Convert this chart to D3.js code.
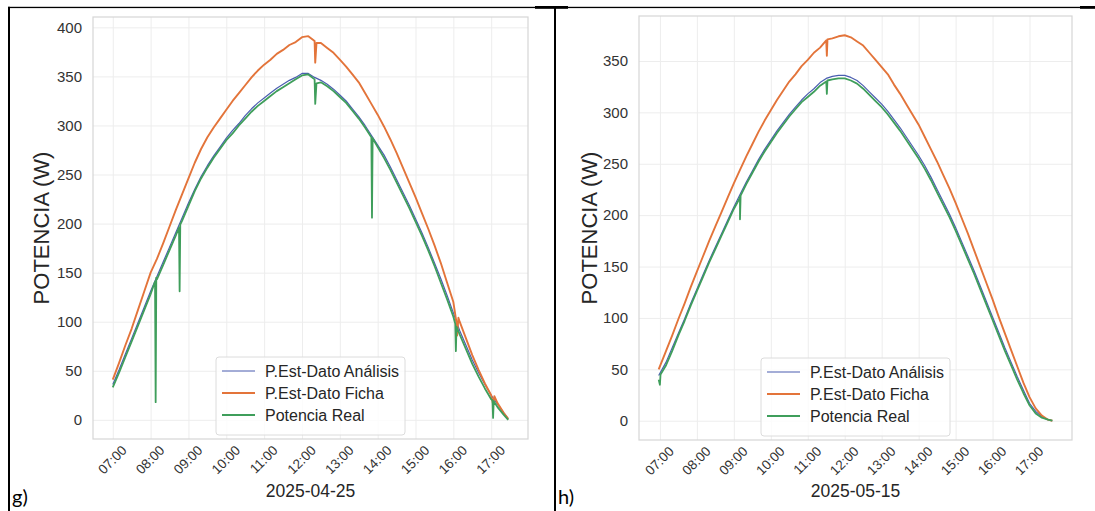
<!DOCTYPE html>
<html><head><meta charset="utf-8">
<script src="https://cdn.jsdelivr.net/npm/d3@7"></script>
<style>
body{margin:0;background:#fff}
svg{display:block}
text{font-family:"Liberation Sans",Arial,sans-serif}
</style>
</head><body><svg id="c" width="1095" height="511"></svg>
<script>
// ---------- data ----------
const seriesNames = ["P.Est-Dato Análisis","P.Est-Dato Ficha","Potencia Real"];
const hourTicks = ["07:00","08:00","09:00","10:00","11:00","12:00","13:00","14:00","15:00","16:00","17:00"];
const yTicksG = [0,50,100,150,200,250,300,350,400];
const yTicksH = [0,50,100,150,200,250,300,350];

const timesG = ["07:00","07:10","07:20","07:30","07:40","07:50","08:00","08:10","08:20","08:30","08:40","08:50",
"09:00","09:10","09:20","09:30","09:40","09:50","10:00","10:10","10:20","10:30","10:40","10:50",
"11:00","11:10","11:20","11:30","11:40","11:50","12:00","12:10","12:20","12:30","12:40","12:50",
"13:00","13:10","13:20","13:30","13:40","13:50","14:00","14:10","14:20","14:30","14:40","14:50",
"15:00","15:10","15:20","15:30","15:40","15:50","16:00","16:10","16:20","16:30","16:40","16:50",
"17:00","17:10","17:20","17:27"];
const analisisG = [36,51,67,83,99,115, 131,146,161,176,191,206, 221,235,248,259,269,278, 287,295,302,310,317,323,
328,333,338,342,346,349, 353,353,349,346,342,337, 331,325,317,309,300,290, 280,270,258,245,232,219,
205,191,176,160,144,127, 109,91,76,61,48,36, 25,16,7,1];
const fichaG = [41,58,76,93,112,131, 150,164,180,197,214,230, 246,262,276,288,298,307, 316,325,333,341,349,356,
362,367,373,377,382,385, 390,391,386,384,379,374, 367,360,352,344,333,322, 311,299,286,272,257,242,
227,211,195,178,160,140, 120,100,83,66,51,37, 25,17,7,1];
const realG = [33,48,64,80,96,112, 128,143,158,173,188,203, 218,233,246,257,267,276, 285,292,300,307,314,320,
325,330,335,339,343,347, 351,352,347,344,340,335, 329,323,315,307,298,288, 278,267,255,242,229,216,
202,188,173,157,140,123, 105,87,72,57,44,32, 21,13,5,0];
const fichaSpikesG = [["12:21",364],["12:23",384],["16:05",99],["16:06",86],["16:08",104],["17:03",16],["17:05",24]];
const realSpikesG = [["08:07",141],["08:08",18],["08:09",145],["08:45",196],["08:46",131],["08:47",199],
["12:21",322],["12:23",343],["13:51",206],["13:52",287],["16:03",98],["16:04",70],["16:05",95],
["17:02",20],["17:03",2],["17:04",19]];

const timesH = ["06:58","07:10","07:20","07:30","07:40","07:50","08:00","08:10","08:20","08:30","08:40","08:50",
"09:00","09:10","09:20","09:30","09:40","09:50","10:00","10:10","10:20","10:30","10:40","10:50",
"11:00","11:10","11:20","11:30","11:40","11:50","12:00","12:10","12:20","12:30","12:40","12:50",
"13:00","13:10","13:20","13:30","13:40","13:50","14:00","14:10","14:20","14:30","14:40","14:50",
"15:00","15:10","15:20","15:30","15:40","15:50","16:00","16:10","16:20","16:30","16:40","16:50",
"17:00","17:10","17:20","17:30","17:37"];
const analisisH = [44,57,71,85,99,114, 128,142,156,169,182,195, 208,220,232,243,254,264, 273,282,290,298,305,312,
318,323,329,333,335,336, 336,334,331,326,320,314, 308,301,293,285,276,267, 258,248,237,225,213,201,
188,174,160,146,131,116, 101,86,71,57,43,30, 17,9,4,1,0];
const fichaH = [50,68,83,99,114,130, 145,160,175,189,203,217, 231,244,257,269,281,292, 302,312,321,330,337,345,
351,358,363,370,372,374, 375,373,369,365,358,351, 344,337,327,318,308,298, 288,276,264,252,239,226,
212,197,182,166,150,134, 118,101,85,69,53,37, 23,12,5,1,0];
const realH = [40,54,68,83,97,112, 126,140,154,167,180,193, 206,218,230,241,252,262, 271,280,288,296,303,310,
315,320,326,330,332,333, 333,331,328,323,317,311, 305,298,290,282,273,264, 255,245,234,222,210,198,
185,171,157,143,128,113, 98,83,68,54,40,27, 15,7,3,1,0];
const fichaSpikesH = [["11:31",355],["11:32",371]];
const realSpikesH = [["07:00",35],["07:01",45],["09:09",216],["09:10",196],["09:11",219],["11:31",318],["11:32",331]];

// ---------- styles / layout ----------
const colors = ["#4a5db0","#e3743a","#3f9e5b"];
const widths = [1.2,1.9,1.8];
const panels = [
  {times:timesG, series:[analisisG,fichaG,realG], spikes:[[],fichaSpikesG,realSpikesG], yTicks:yTicksG,
   date:"2025-04-25", tag:"g)", fx0:93, fx1:528, fy0:17, fy1:439, tagX:12, ylabX:41},
  {times:timesH, series:[analisisH,fichaH,realH], spikes:[[],fichaSpikesH,realSpikesH], yTicks:yTicksH,
   date:"2025-05-15", tag:"h)", fx0:639, fx1:1072, fy0:16, fy1:440, tagX:558, ylabX:589}
];

const svg = d3.select("#c");
const parse = d3.timeParse("%H:%M");
const fmt = d3.timeFormat("%H:%M");

svg.append("rect").attr("x",0).attr("y",0).attr("width",1095).attr("height",511).attr("fill","#fff");

panels.forEach(p => {
  const seriesPts = p.series.map((vals,i) => {
    const pts = p.times.map((t,j) => ({t:parse(t), v:vals[j]}));
    p.spikes[i].forEach(s => pts.push({t:parse(s[0]), v:s[1]}));
    pts.sort((a,b) => a.t - b.t);
    return pts;
  });
  const all = seriesPts.flat();
  const [tMin,tMax] = d3.extent(all, d => d.t);
  const tPad = (tMax - tMin) * 0.05;
  const [vMin,vMax] = d3.extent(all, d => d.v);
  const vPad = (vMax - vMin) * 0.05;
  const x = d3.scaleTime().domain([new Date(+tMin - tPad), new Date(+tMax + tPad)]).range([p.fx0,p.fx1]);
  const y = d3.scaleLinear().domain([vMin - vPad, vMax + vPad]).range([p.fy1,p.fy0]);
  const W = p.fx1 - p.fx0, H = p.fy1 - p.fy0;

  const gy = svg.append("g").attr("transform",`translate(${p.fx0},0)`)
    .call(d3.axisLeft(y).tickValues(p.yTicks).tickSize(-W).tickPadding(11).tickFormat(d3.format("d")));
  gy.select(".domain").remove();
  gy.selectAll(".tick line").attr("stroke","#ededed").attr("stroke-width",1);
  gy.selectAll(".tick text").attr("fill","#333").style("font-size","15px").style("font-family",'"Liberation Sans",Arial,sans-serif');

  const gx = svg.append("g").attr("transform",`translate(0,${p.fy1})`)
    .call(d3.axisBottom(x).tickValues(hourTicks.map(parse)).tickSize(-H).tickFormat(fmt));
  gx.select(".domain").remove();
  gx.selectAll(".tick line").attr("stroke","#ededed").attr("stroke-width",1);
  gx.selectAll(".tick text").attr("fill","#333").style("font-size","13.5px").style("font-family",'"Liberation Sans",Arial,sans-serif')
    .each(function(){
      const w = this.getComputedTextLength();
      const bh = (w + 13.5) * Math.SQRT1_2;
      d3.select(this).attr("text-anchor","middle").attr("x",0).attr("y",0).attr("dy","0.35em")
        .attr("transform",`translate(-1,${4 + bh/2}) rotate(-45)`);
    });

  svg.append("rect").attr("x",p.fx0).attr("y",p.fy0).attr("width",W).attr("height",H)
    .attr("fill","none").attr("stroke","#d6d6d6").attr("stroke-width",1.2);

  const line = d3.line().x(d => x(d.t)).y(d => y(d.v));
  seriesPts.forEach((pts,i) => {
    svg.append("path").datum(pts).attr("d",line).attr("fill","none")
      .attr("stroke",colors[i]).attr("stroke-width",widths[i]).attr("stroke-linejoin","round");
  });

  const lg = svg.append("g");
  const box = lg.append("rect");
  const rowY = [371,393,415].map(v => v - 439 + p.fy1);
  let maxW = 0;
  const texts = seriesNames.map((n,i) => {
    const t = lg.append("text").text(n).attr("fill","#262626").style("font-size","16px")
      .attr("dy","0.35em").attr("y",rowY[i]);
    maxW = Math.max(maxW, t.node().getComputedTextLength());
    return t;
  });
  const bw = 6 + 33 + 10 + maxW + 6;
  const bx = (p.fx0 + p.fx1)/2 - bw/2;
  box.attr("x",bx).attr("y",rowY[0]-14).attr("width",bw).attr("height",78).attr("rx",3)
    .attr("fill","#fff").attr("fill-opacity",0.8).attr("stroke","#dcdcdc").attr("stroke-width",1);
  texts.forEach((t,i) => {
    t.attr("x",bx + 6 + 33 + 10);
    lg.append("line").attr("x1",bx+6).attr("x2",bx+6+33).attr("y1",rowY[i]).attr("y2",rowY[i])
      .attr("stroke",colors[i]).attr("stroke-width",widths[i]);
  });

  svg.append("text").attr("transform",`translate(${p.ylabX},${(p.fy0+p.fy1)/2}) rotate(-90)`)
    .attr("text-anchor","middle").attr("dy","0.35em").attr("fill","#262626").style("font-size","22px").text("POTENCIA (W)");
  svg.append("text").attr("x",(p.fx0+p.fx1)/2).attr("y",497).attr("text-anchor","middle")
    .attr("fill","#262626").style("font-size","17.5px").text(p.date);
  svg.append("text").attr("x",p.tagX).attr("y",504).attr("fill","#000")
    .style("font-family","Lato, 'Open Sans', sans-serif").style("font-size","20px").text(p.tag);
});

svg.append("rect").attr("x",8).attr("y",6.8).attr("width",1087).attr("height",1.3).attr("fill","#000");
svg.append("rect").attr("x",535).attr("y",6).attr("width",33).attr("height",2.8).attr("fill","#000");
svg.append("rect").attr("x",1080).attr("y",6).attr("width",15).attr("height",2.8).attr("fill","#000");
svg.append("rect").attr("x",8).attr("y",6.8).attr("width",2).attr("height",505).attr("fill","#000");
svg.append("rect").attr("x",554).attr("y",6.8).attr("width",2).attr("height",505).attr("fill","#000");
</script>
</body></html>
